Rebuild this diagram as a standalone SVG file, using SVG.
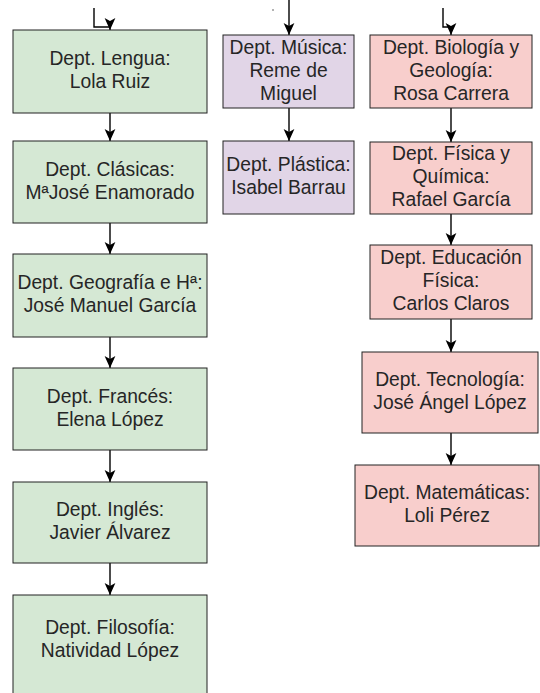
<svg xmlns="http://www.w3.org/2000/svg" width="540" height="693" viewBox="0 0 540 693">
<style>
.g{fill:#d5e8d4;stroke:#222;stroke-width:1}
.p{fill:#e1d5e7;stroke:#222;stroke-width:1}
.r{fill:#f8cecc;stroke:#222;stroke-width:1}
text{font-family:"Liberation Sans",Arial,sans-serif;font-size:19.3px;fill:#262626;text-anchor:middle}
.c{fill:none;stroke:#000;stroke-width:1.4;marker-end:url(#ah)}
</style>
<defs>
<marker id="ah" markerUnits="userSpaceOnUse" viewBox="0 0 10 10" refX="10" refY="5" markerWidth="12" markerHeight="12" orient="auto">
<path d="M0,0.5 L10,5 L0,9.5 L2.5,5 z" fill="#000"/>
</marker>
</defs>
<g id="connectors">
<polyline class="c" points="94,8 94,27 110,27 110,30"/>
<line x1="273" y1="9" x2="273" y2="11" stroke="#666" stroke-width="1"/>
<line class="c" x1="289" y1="0" x2="289" y2="35"/>
<polyline class="c" points="443,8 443,27 451,27 451,35"/>
<line class="c" x1="110" y1="113" x2="110" y2="141"/>
<line class="c" x1="110" y1="223" x2="110" y2="254"/>
<line class="c" x1="110" y1="337" x2="110" y2="368"/>
<line class="c" x1="110" y1="450" x2="110" y2="482"/>
<line class="c" x1="110" y1="563" x2="110" y2="595"/>
<line class="c" x1="289" y1="108" x2="289" y2="141"/>
<line class="c" x1="451" y1="108" x2="451" y2="142"/>
<line class="c" x1="451" y1="214" x2="451" y2="245"/>
<line class="c" x1="451" y1="319" x2="451" y2="352"/>
<line class="c" x1="451" y1="433" x2="451" y2="465"/>
</g>
<g id="lengua"><rect class="g" x="13" y="30" width="194" height="83"/><text x="110" y="65">Dept. Lengua:<tspan x="110" dy="23">Lola Ruiz</tspan></text></g>
<g id="clasicas"><rect class="g" x="13" y="141" width="194" height="82"/><text x="110" y="175.5">Dept. Clásicas:<tspan x="110" dy="23">MªJosé Enamorado</tspan></text></g>
<g id="geografia"><rect class="g" x="13" y="254" width="194" height="83"/><text x="110" y="289">Dept. Geografía e Hª:<tspan x="110" dy="23">José Manuel García</tspan></text></g>
<g id="frances"><rect class="g" x="13" y="368" width="194" height="82"/><text x="110" y="402.5">Dept. Francés:<tspan x="110" dy="23">Elena López</tspan></text></g>
<g id="ingles"><rect class="g" x="13" y="482" width="194" height="81"/><text x="110" y="516">Dept. Inglés:<tspan x="110" dy="23">Javier Álvarez</tspan></text></g>
<g id="filosofia"><rect class="g" x="13" y="595" width="194" height="102"/><text x="110" y="634">Dept. Filosofía:<tspan x="110" dy="23">Natividad López</tspan></text></g>
<g id="musica"><rect class="p" x="223" y="35" width="131" height="73"/><text x="288.5" y="53.5">Dept. Música:<tspan x="288.5" dy="23">Reme de</tspan><tspan x="288.5" dy="23">Miguel</tspan></text></g>
<g id="plastica"><rect class="p" x="223" y="141" width="131" height="73"/><text x="288.5" y="171">Dept. Plástica:<tspan x="288.5" dy="23">Isabel Barrau</tspan></text></g>
<g id="biologia"><rect class="r" x="370" y="35" width="162" height="73"/><text x="451" y="53.5">Dept. Biología y<tspan x="451" dy="23">Geología:</tspan><tspan x="451" dy="23">Rosa Carrera</tspan></text></g>
<g id="fisica"><rect class="r" x="370" y="142" width="162" height="72"/><text x="451" y="160">Dept. Física y<tspan x="451" dy="23">Química:</tspan><tspan x="451" dy="23">Rafael García</tspan></text></g>
<g id="edfisica"><rect class="r" x="370" y="245" width="162" height="74"/><text x="451" y="264">Dept. Educación<tspan x="451" dy="23">Física:</tspan><tspan x="451" dy="23">Carlos Claros</tspan></text></g>
<g id="tecnologia"><rect class="r" x="362" y="352" width="176" height="81"/><text x="450" y="386">Dept. Tecnología:<tspan x="450" dy="23">José Ángel López</tspan></text></g>
<g id="matematicas"><rect class="r" x="355" y="465" width="184" height="81"/><text x="447" y="499">Dept. Matemáticas:<tspan x="447" dy="23">Loli Pérez</tspan></text></g>
</svg>
